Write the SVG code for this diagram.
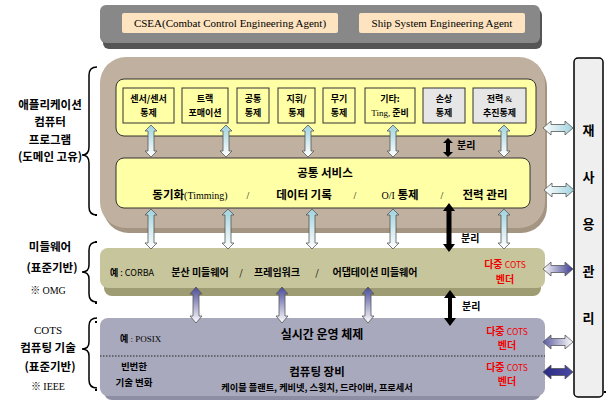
<svg xmlns="http://www.w3.org/2000/svg" width="607" height="401" viewBox="0 0 607 401">
<style>
.k{font-family:"Noto Sans CJK KR","Noto Sans",sans-serif;fill:#000}
.b{font-weight:bold}
.s{font-family:"Liberation Serif",serif}
.m{text-anchor:middle}
.r{fill:#f00000}
.box{fill:#ffffa6;stroke:#333;stroke-width:1}
.gbox{fill:#e6e6e6;stroke:#333;stroke-width:1}
.brace{fill:none;stroke:#000;stroke-width:1.5}
.ar{stroke:#555;stroke-width:0.8}
.blk{fill:#000}
</style>
<defs>
<linearGradient id="gC" x1="0" y1="0" x2="0" y2="1"><stop offset="0" stop-color="#9fd3de"/><stop offset="1" stop-color="#ffffff"/></linearGradient>
<linearGradient id="gB" x1="0" y1="0" x2="0" y2="1"><stop offset="0" stop-color="#4a4a9a"/><stop offset="1" stop-color="#ffffff"/></linearGradient>
<linearGradient id="hC" x1="0" y1="0" x2="1" y2="0"><stop offset="0" stop-color="#ffffff"/><stop offset="1" stop-color="#9fd3de"/></linearGradient>
<linearGradient id="hB" x1="0" y1="0" x2="1" y2="0"><stop offset="0" stop-color="#ffffff"/><stop offset="1" stop-color="#3c3c90"/></linearGradient>
<linearGradient id="hL" x1="0" y1="0" x2="1" y2="0"><stop offset="0" stop-color="#5a5aa0"/><stop offset="1" stop-color="#ffffff"/></linearGradient>
<linearGradient id="hD" x1="0" y1="0" x2="1" y2="0"><stop offset="0" stop-color="#2a2a85"/><stop offset="1" stop-color="#4a4aa5"/></linearGradient>
<path id="v32" d="M0,0 L6,6 L3,6 L3,26 L6,26 L0,32 L-6,26 L-3,26 L-3,6 L-6,6 Z"/>
<path id="v40" d="M0,0 L6,6 L3,6 L3,34 L6,34 L0,40 L-6,34 L-3,34 L-3,6 L-6,6 Z"/>
<path id="v36" d="M0,0 L6,7 L3,7 L3,29 L6,29 L0,36 L-6,29 L-3,29 L-3,7 L-6,7 Z"/>
<path id="h30" d="M0,0 L8,-7 L8,-3.5 L22,-3.5 L22,-7 L30,0 L22,7 L22,3.5 L8,3.5 L8,7 Z"/>
</defs>

<g id="agents">
<rect x="103" y="9" width="439" height="40" rx="6" fill="#555"/>
<rect x="100" y="5" width="440" height="38" rx="6" fill="#888"/>
<rect x="122" y="13" width="216" height="20" rx="2" fill="#fde3bf"/>
<text class="s m" x="230" y="27" font-size="11">CSEA(Combat Control Engineering Agent)</text>
<rect x="359" y="13" width="166" height="20" rx="2" fill="#fde3bf"/>
<text class="s m" x="442" y="27" font-size="11">Ship System Engineering Agent</text>
</g>

<g id="application">
<rect x="103" y="61" width="444" height="172" rx="26" fill="#a49482"/>
<rect x="100" y="57" width="445" height="171" rx="26" fill="#c0b09f"/>
<rect x="116" y="79" width="420" height="57" rx="8" class="box"/>
</g>

<g id="app-boxes">
<g id="sensor"><rect x="123" y="88" width="51" height="35" class="box"/><text class="k b m" font-size="9" x="148.5" y="102">센서/센서</text><text class="k b m" font-size="9" x="148.5" y="116">통제</text></g>
<g id="track"><rect x="182" y="88" width="46" height="35" class="box"/><text class="k b m" font-size="9" x="205" y="102">트랙</text><text class="k b m" font-size="9" x="205" y="116">포매이션</text></g>
<g id="common"><rect x="237" y="88" width="32" height="35" class="box"/><text class="k b m" font-size="9" x="253" y="102">공통</text><text class="k b m" font-size="9" x="253" y="116">통제</text></g>
<g id="command"><rect x="278" y="88" width="37" height="35" class="box"/><text class="k b m" font-size="9" x="296.5" y="102">지휘/</text><text class="k b m" font-size="9" x="296.5" y="116">통제</text></g>
<g id="weapon"><rect x="323" y="88" width="32" height="35" class="box"/><text class="k b m" font-size="9" x="339" y="102">무기</text><text class="k b m" font-size="9" x="339" y="116">통제</text></g>
<g id="etc"><rect x="365" y="88" width="50" height="35" class="box"/><text class="k b m" font-size="9" x="390" y="102">기타:</text><text class="k b m" font-size="9" x="390" y="116"><tspan class="s" font-weight="normal">Ting,</tspan> 준비</text></g>
<g id="damage"><rect x="423" y="88" width="42" height="35" class="gbox"/><text class="k b m" font-size="9" x="444" y="102">손상</text><text class="k b m" font-size="9" x="444" y="116">통제</text></g>
<g id="power"><rect x="473" y="88" width="53" height="35" class="gbox"/><text class="k b m" font-size="9" x="499.5" y="102">전력 <tspan class="s" font-weight="normal">&amp;</tspan></text><text class="k b m" font-size="9" x="499.5" y="116">추진통제</text></g>
</g>

<g id="common-services">
<rect x="116" y="158" width="414" height="50" rx="8" class="box"/>
<text class="k b m" font-size="11.5" x="325" y="177">공통 서비스</text>
<text class="k b m" font-size="11.5" x="190" y="199">동기화<tspan class="s" font-weight="normal" font-size="10">(Timming)</tspan></text>
<text class="s m" font-size="10" x="248" y="199">/</text>
<text class="k b m" font-size="11.5" x="304" y="199">데이터 기록</text>
<text class="s m" font-size="10" x="355" y="199">/</text>
<text class="k b m" font-size="11.5" x="400" y="199"><tspan class="s" font-weight="normal" font-size="10">O/I</tspan> 통제</text>
<text class="s m" font-size="10" x="442" y="199">/</text>
<text class="k b m" font-size="11.5" x="485" y="199">전력 관리</text>
</g>

<g id="middleware">
<rect x="104" y="253" width="437" height="43" rx="8" fill="#9e9c72"/>
<rect x="100" y="248" width="445" height="40" rx="8" fill="#c7c59b"/>
<text class="k" font-size="9" x="110" y="276"><tspan font-weight="bold">예</tspan> : CORBA</text>
<text class="k b m" font-size="10" x="200" y="276">분산 미들웨어</text>
<text class="k m" font-size="9" x="241" y="276">/</text>
<text class="k b m" font-size="10" x="277" y="276">프레임워크</text>
<text class="k m" font-size="9" x="317" y="276">/</text>
<text class="k b m" font-size="10" x="375" y="276">어댑테이션 미들웨어</text>
<text class="k b m r" font-size="10" x="505" y="268">다중 <tspan font-size="8.5" font-weight="normal">COTS</tspan></text>
<text class="k b m r" font-size="10" x="505" y="283">벤더</text>
</g>

<g id="cots">
<rect x="104" y="323" width="437" height="77" rx="8" fill="#8d8da3"/>
<rect x="100" y="318" width="445" height="78" rx="8" fill="#a9a9bd"/>
<line x1="100" y1="356" x2="545" y2="356" stroke="#222" stroke-width="1" stroke-dasharray="1.5,1.5"/>
<text class="k" font-size="9" x="120" y="342"><tspan font-weight="bold">예</tspan><tspan class="s"> : POSIX</tspan></text>
<text class="k b m" font-size="12" x="322" y="339">실시간 운영 체제</text>
<text class="k b m r" font-size="10" x="507" y="335">다중 <tspan font-size="8.5" font-weight="normal">COTS</tspan></text>
<text class="k b m r" font-size="10" x="507" y="349">벤더</text>
<text class="k b m" font-size="9.5" x="134" y="370">빈번한</text>
<text class="k b m" font-size="9.5" x="134" y="386">기술 변화</text>
<text class="k b m" font-size="11.5" x="317" y="376">컴퓨팅 장비</text>
<text class="k b m" font-size="9.2" x="317" y="391">케이블 플랜트, 케비넷, 스윗치, 드라이버, 프로세서</text>
<text class="k b m r" font-size="10" x="507" y="371">다중 <tspan font-size="8.5" font-weight="normal">COTS</tspan></text>
<text class="k b m r" font-size="10" x="507" y="385">벤더</text>
</g>

<g id="reuse">
<rect x="574" y="58" width="29" height="339" rx="4" fill="#efefef" stroke="#000" stroke-width="1.5"/>
<text class="k b m" font-size="13" x="588.5" y="135">재</text>
<text class="k b m" font-size="13" x="588.5" y="182">사</text>
<text class="k b m" font-size="13" x="588.5" y="229">용</text>
<text class="k b m" font-size="13" x="588.5" y="276">관</text>
<text class="k b m" font-size="13" x="588.5" y="323">리</text>
<rect x="604" y="391" width="2" height="2" fill="#000"/>
</g>

<g id="left-labels">
<text class="k b m" font-size="11.5" x="50" y="109">애플리케이션</text>
<text class="k b m" font-size="11.5" x="50" y="126">컴퓨터</text>
<text class="k b m" font-size="11.5" x="50" y="144">프로그램</text>
<text class="k b m" font-size="11.5" x="50" y="161">(도메인 고유)</text>
<path class="brace" d="M97,67 Q89,67 89,75 L89,147 Q89,155 82,155 Q89,155 89,163 L89,207 Q89,215 97,215"/>
<text class="k b m" font-size="11.5" x="50" y="251">미들웨어</text>
<text class="k b m" font-size="11.5" x="52" y="272">(표준기반)</text>
<text class="k m" font-size="10" x="48" y="294">※ <tspan class="s">OMG</tspan></text>
<path class="brace" d="M97,242 Q89,242 89,250 L89,265 Q89,272 82,272 Q89,272 89,279 L89,294 Q89,302 97,302"/>
<text class="s m" font-size="11" x="48" y="334">COTS</text>
<text class="k b m" font-size="11.5" x="48" y="352">컴퓨팅 기술</text>
<text class="k b m" font-size="11.5" x="50" y="371">(표준기반)</text>
<text class="k m" font-size="10" x="48" y="390">※ <tspan class="s">IEEE</tspan></text>
<path class="brace" d="M97,318 Q89,318 89,326 L89,342 Q89,349 82,349 Q89,349 89,356 L89,380 Q89,388 97,388"/>
<rect x="95" y="214" width="2" height="2" fill="#000"/>
<rect x="95" y="241" width="2" height="2" fill="#000"/>
<rect x="95" y="302" width="2" height="2" fill="#000"/>
<rect x="95" y="321" width="2" height="2" fill="#000"/>
<rect x="95" y="389" width="2" height="2" fill="#000"/>
</g>

<g id="connectors">
<use href="#v32" x="151" y="125" fill="url(#gC)" class="ar"/>
<use href="#v32" x="226" y="125" fill="url(#gC)" class="ar"/>
<use href="#v32" x="308" y="125" fill="url(#gC)" class="ar"/>
<use href="#v32" x="393" y="125" fill="url(#gC)" class="ar"/>
<use href="#v32" x="504" y="125" fill="url(#gC)" class="ar"/>
<path class="blk" d="M448,138 L453,143 L450,143 L450,152 L453,152 L448,157 L443,152 L446,152 L446,143 L443,143 Z"/>
<text class="k b" font-size="10" x="457" y="149">분리</text>

<use href="#v40" x="151" y="209" fill="url(#gC)" class="ar"/>
<use href="#v40" x="228" y="209" fill="url(#gC)" class="ar"/>
<use href="#v40" x="312" y="209" fill="url(#gC)" class="ar"/>
<use href="#v40" x="393" y="209" fill="url(#gC)" class="ar"/>
<use href="#v40" x="504" y="209" fill="url(#gC)" class="ar"/>
<path class="blk" d="M449,203 L455,211 L451.5,211 L451.5,244 L455,244 L449,252 L443,244 L446.5,244 L446.5,211 L443,211 Z"/>
<text class="k b" font-size="10" x="461" y="242">분리</text>

<use href="#v36" x="196" y="287" fill="url(#gB)" class="ar"/>
<use href="#v36" x="282" y="287" fill="url(#gB)" class="ar"/>
<use href="#v36" x="368" y="287" fill="url(#gB)" class="ar"/>
<path class="blk" d="M450,290 L456,298 L452,298 L452,318 L456,318 L450,326 L444,318 L448,318 L448,298 L444,298 Z"/>
<text class="k b" font-size="10" x="462" y="310">분리</text>

<use href="#h30" x="543" y="128" fill="url(#hC)" class="ar"/>
<use href="#h30" x="544" y="190" fill="url(#hC)" class="ar"/>
<use href="#h30" x="543" y="269" fill="url(#hB)" class="ar"/>
<use href="#h30" x="543" y="342" fill="url(#hL)" class="ar"/>
<use href="#h30" x="543" y="372" fill="url(#hD)" class="ar"/>
</g>
</svg>
